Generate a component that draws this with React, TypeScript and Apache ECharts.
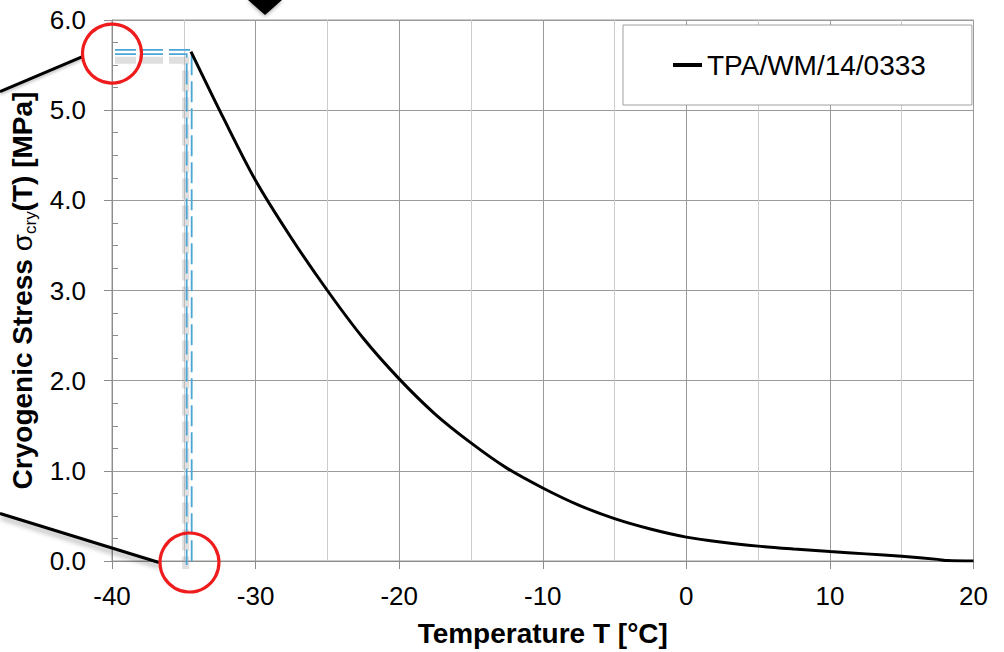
import React, { useEffect, useRef } from "react";
import * as echarts from "echarts";

// Cryogenic stress curve of specimen TPA/WM/14/0333
const seriesName = "TPA/WM/14/0333";
const temperature = [
  -34.5, -32.2, -30, -27.5, -25, -22.5, -20, -17.5, -15, -12.5, -10, -7.5, -5,
  -2.5, 0, 2.5, 5, 7.5, 10, 12.5, 15, 17.5, 18.2, 20,
];
const stress = [
  5.65, 4.9, 4.22, 3.58, 3.0, 2.47, 2.02, 1.63, 1.31, 1.03, 0.81, 0.62, 0.47,
  0.355, 0.265, 0.208, 0.165, 0.133, 0.105, 0.079, 0.052, 0.018, 0.005, 0.0,
];

// Axis ranges
const xRange = [-40, 20];
const yRange = [0, 6];

const FONT = "'Liberation Sans', Arial, sans-serif";

export default function App() {
  const ref = useRef<HTMLDivElement>(null);

  useEffect(() => {
    if (!ref.current) return;
    const chart = echarts.init(ref.current, undefined, { renderer: "svg" });

    const data = temperature.map((t, i) => [t, stress[i]]);

    chart.setOption({
      animation: false,
      backgroundColor: "#ffffff",
      textStyle: { fontFamily: FONT },
      grid: {
        left: 112,
        top: 20,
        right: 30.5,
        bottom: 86.3,
        show: true,
        borderColor: "#999999",
        borderWidth: 1,
        backgroundColor: "transparent",
      },
      legend: {
        left: 623,
        top: 25,
        padding: [26, 46, 26, 50],
        borderColor: "#a0a0a0",
        borderWidth: 1,
        backgroundColor: "#ffffff",
        icon: "rect",
        itemWidth: 29,
        itemHeight: 4,
        textStyle: { fontFamily: FONT, fontSize: 28, color: "#000" },
        data: [seriesName],
      },
      xAxis: {
        type: "value",
        min: xRange[0],
        max: xRange[1],
        interval: 10,
        name: "Temperature T [°C]",
        nameLocation: "middle",
        nameGap: 58,
        nameTextStyle: {
          fontFamily: FONT,
          fontSize: 28,
          fontWeight: "bold",
          color: "#000",
        },
        axisLine: {
          show: true,
          onZero: false,
          lineStyle: { color: "#8c8c8c", width: 1 },
        },
        axisTick: { show: true, length: 8, lineStyle: { color: "#8c8c8c" } },
        minorTick: { show: false, splitNumber: 2 },
        axisLabel: {
          fontFamily: FONT,
          fontSize: 26,
          color: "#000",
          margin: 22,
        },
        splitLine: { show: true, lineStyle: { color: "#9a9a9a", width: 1 } },
        minorSplitLine: {
          show: true,
          lineStyle: { color: "#cccccc", width: 1 },
        },
      },
      yAxis: {
        type: "value",
        min: yRange[0],
        max: yRange[1],
        interval: 1,
        name: "{a|Cryogenic Stress }{b|σ}{c|cry}{a|(T) [MPa]}",
        nameLocation: "middle",
        nameGap: 68,
        nameTextStyle: {
          rich: {
            a: {
              fontFamily: FONT,
              fontSize: 28,
              fontWeight: "bold",
              color: "#000",
              lineHeight: 32,
            },
            b: {
              fontFamily: FONT,
              fontSize: 28,
              color: "#000",
              lineHeight: 32,
            },
            c: {
              fontFamily: FONT,
              fontSize: 17,
              color: "#000",
              verticalAlign: "bottom",
              lineHeight: 32,
              padding: [8, 0, 0, 0],
            },
          },
        },
        axisLine: {
          show: true,
          onZero: false,
          lineStyle: { color: "#8c8c8c", width: 1 },
        },
        axisTick: { show: true, length: 8, lineStyle: { color: "#8c8c8c" } },
        minorTick: {
          show: true,
          splitNumber: 4,
          length: -6,
          lineStyle: { color: "#8c8c8c" },
        },
        axisLabel: {
          fontFamily: FONT,
          fontSize: 26,
          color: "#000",
          margin: 26,
          formatter: (v: number) => v.toFixed(1),
        },
        splitLine: { show: true, lineStyle: { color: "#9a9a9a", width: 1 } },
      },
      series: [
        {
          name: seriesName,
          type: "line",
          data,
          showSymbol: false,
          smooth: 0.3,
          color: "#000",
          lineStyle: { color: "#000", width: 3 },
          z: 5,
        },
      ],
    });

    // Annotation overlay: peak marker lines, circles and callout strokes
    const peakPx = chart.convertToPixel({ gridIndex: 0 }, [
      temperature[0],
      stress[0],
    ]) as number[];
    const yAxisPx = chart.convertToPixel({ gridIndex: 0 }, [
      xRange[0],
      stress[0],
    ]) as number[];
    const xAxisPx = chart.convertToPixel({ gridIndex: 0 }, [
      temperature[0],
      0,
    ]) as number[];

    const leftX = yAxisPx[0] + 3;
    const outerY = peakPx[1] - 1.7;
    const innerY = peakPx[1] + 2.6;
    const outerX = peakPx[0] + 0.7;
    const innerX = peakPx[0] - 4.3;
    const bottomY = xAxisPx[1] + 4;

    const c1 = [yAxisPx[0], yAxisPx[1] + 2];
    const c2 = [xAxisPx[0] - 1.5, xAxisPx[1] + 1.5];
    const r = 29.5;
    const blue = "#4aa6d6";
    const dash = [21, 6];

    chart.setOption({
      graphic: [
        // soft grey shadow under the double guide line
        {
          type: "polyline",
          z: 3,
          shape: {
            points: [
              [leftX, innerY + 6],
              [innerX - 1, innerY + 6],
              [innerX - 1, bottomY + 4],
            ],
          },
          style: {
            stroke: "rgba(150,150,150,0.3)",
            lineWidth: 7,
            fill: null,
            lineDash: dash,
          },
          silent: true,
        },
        {
          type: "polyline",
          z: 4,
          shape: {
            points: [
              [leftX, outerY],
              [outerX, outerY],
              [outerX, bottomY],
            ],
          },
          style: { stroke: blue, lineWidth: 1.8, fill: null, lineDash: dash },
          silent: true,
        },
        {
          type: "polyline",
          z: 4,
          shape: {
            points: [
              [leftX, innerY],
              [innerX, innerY],
              [innerX, bottomY],
            ],
          },
          style: { stroke: blue, lineWidth: 1.8, fill: null, lineDash: dash },
          silent: true,
        },
        // red circles on the axes
        {
          type: "circle",
          z: 10,
          shape: { cx: c1[0], cy: c1[1], r },
          style: { stroke: "#ee1c1c", lineWidth: 3.2, fill: null },
          silent: true,
        },
        {
          type: "circle",
          z: 10,
          shape: { cx: c2[0], cy: c2[1], r },
          style: { stroke: "#ee1c1c", lineWidth: 3.2, fill: null },
          silent: true,
        },
        // callout strokes coming from the left edge
        {
          type: "line",
          z: 9,
          shape: { x1: 0, y1: c1[1] + 38, x2: c1[0] - r, y2: c1[1] + 3 },
          style: {
            stroke: "#000",
            lineWidth: 3,
            shadowBlur: 3,
            shadowColor: "rgba(0,0,0,0.25)",
            shadowOffsetY: 2,
          },
          silent: true,
        },
        {
          type: "line",
          z: 9,
          shape: { x1: 0, y1: c2[1] - 49, x2: c2[0] - r - 1, y2: c2[1] },
          style: {
            stroke: "#000",
            lineWidth: 3,
            shadowBlur: 5,
            shadowColor: "rgba(0,0,0,0.35)",
            shadowOffsetY: 4,
            shadowOffsetX: 1,
          },
          silent: true,
        },
        // pointer triangle at the top edge
        {
          type: "polygon",
          z: 9,
          shape: {
            points: [
              [248, 0],
              [282, 0],
              [265, 15],
            ],
          },
          style: {
            fill: "#000",
            shadowBlur: 4,
            shadowColor: "rgba(0,0,0,0.4)",
            shadowOffsetY: 1,
          },
          silent: true,
        },
      ],
    });

    return () => chart.dispose();
  }, []);

  return (
    <div
      ref={ref}
      style={{
        position: "absolute",
        left: 0,
        top: 0,
        width: 1004,
        height: 652,
        background: "#fff",
      }}
    />
  );
}
